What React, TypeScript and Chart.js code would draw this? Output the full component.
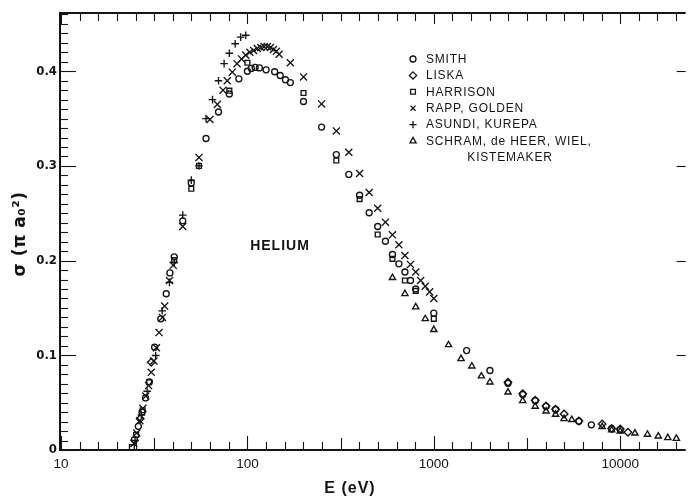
import React, { useEffect, useRef } from 'react';
import { Chart, registerables } from 'chart.js';
import { drawPoint } from 'chart.js/helpers';

Chart.register(...registerables);

type Pt = [number, number];

// Ionization cross section of helium, sigma in units of pi*a0^2, versus electron energy E (eV)
const smith: Pt[] = [
  [24.8, 0.011], [26.0, 0.025], [27.2, 0.040], [28.4, 0.055], [29.8, 0.072], [31.8, 0.1086],
  [34.3, 0.1385], [36.7, 0.165], [38.4, 0.187], [40.5, 0.204], [45, 0.242], [50, 0.282],
  [60, 0.329], [70, 0.357], [80, 0.376], [90, 0.392], [100, 0.400], [105, 0.403], [110, 0.404],
  [116, 0.4035], [126, 0.4015], [140, 0.3995], [150, 0.3955], [160, 0.391], [170, 0.388],
  [200, 0.368], [250, 0.341], [300, 0.312], [350, 0.291], [400, 0.269], [450, 0.2505],
  [500, 0.236], [550, 0.2205], [600, 0.2065], [650, 0.1966], [700, 0.188], [750, 0.179],
  [800, 0.170], [1000, 0.1445], [1500, 0.105], [2000, 0.084], [2500, 0.0705], [3000, 0.0586],
  [3500, 0.052], [4000, 0.046], [4500, 0.0428], [6000, 0.0304], [7000, 0.0266], [9000, 0.0224],
  [10000, 0.0215],
];

const liska: Pt[] = [
  [26.6, 0.033], [30.5, 0.0927], [2500, 0.0715], [3000, 0.0595], [3500, 0.0525], [4000, 0.0465],
  [4500, 0.043], [5000, 0.038], [6000, 0.0305], [8000, 0.0275], [9000, 0.0228], [10000, 0.0222],
  [11000, 0.0188],
];

const harrison: Pt[] = [
  [24.0, 0.003], [25.3, 0.016], [27.4, 0.042], [29.7, 0.0716], [40.5, 0.2005], [50, 0.276],
  [55, 0.300], [80, 0.3795], [100, 0.409], [200, 0.377], [300, 0.3057], [400, 0.265],
  [500, 0.2276], [600, 0.2019], [700, 0.179], [800, 0.168], [1000, 0.1385],
];

const rappGolden: Pt[] = [
  [24.6, 0.007], [25.5, 0.018], [26.5, 0.031], [27.5, 0.044], [28.5, 0.057], [29.5, 0.068],
  [30.5, 0.082], [31.5, 0.094], [32.5, 0.108], [33.6, 0.124], [35.0, 0.140], [36.0, 0.152],
  [38.2, 0.179], [40.0, 0.195], [45, 0.236], [55, 0.309], [63, 0.349], [69, 0.365], [74, 0.380],
  [78, 0.390], [83, 0.399], [88, 0.408], [93, 0.413], [98, 0.417], [103, 0.420], [108, 0.422],
  [113, 0.424], [118, 0.425], [123, 0.426], [128, 0.426], [133, 0.425], [138, 0.423],
  [143, 0.421], [148, 0.418], [170, 0.409], [200, 0.394], [250, 0.3655], [300, 0.337],
  [350, 0.3145], [400, 0.292], [450, 0.272], [500, 0.2553], [550, 0.2406], [600, 0.2272],
  [650, 0.2167], [700, 0.2054], [750, 0.196], [800, 0.188], [850, 0.179], [900, 0.173],
  [950, 0.167], [1000, 0.160],
];

const asundiKurepa: Pt[] = [
  [25.0, 0.010], [27.0, 0.037], [29.0, 0.062], [32.2, 0.0998], [34.9, 0.147], [38.2, 0.177],
  [40.5, 0.198], [45, 0.248], [50, 0.285], [55, 0.300], [60, 0.350], [65, 0.370], [70, 0.390],
  [75, 0.408], [80, 0.419], [86, 0.429], [92, 0.436], [98, 0.438],
];

const schram: Pt[] = [
  [600, 0.182], [700, 0.165], [800, 0.151], [900, 0.1385], [1000, 0.127], [1200, 0.111],
  [1400, 0.0963], [1600, 0.0885], [1800, 0.078], [2000, 0.0716], [2500, 0.061], [3000, 0.052],
  [3500, 0.046], [4000, 0.041], [4500, 0.0375], [5000, 0.033], [5500, 0.032], [8000, 0.0245],
  [9000, 0.021], [10000, 0.0199], [12000, 0.0177], [14000, 0.0164], [16000, 0.0146],
  [18000, 0.0129], [20000, 0.0121],
];

const X_TICKS = [10, 100, 1000, 10000];
const Y_TICKS = [0, 0.1, 0.2, 0.3, 0.4];

const INK = '#141414';

const SERIES = [
  { label: ['SMITH'], style: 'circle', radius: 3, data: smith },
  { label: ['LISKA'], style: 'rectRot', radius: 3.8, data: liska },
  { label: ['HARRISON'], style: 'rect', radius: 3.4, data: harrison },
  { label: ['RAPP, GOLDEN'], style: 'crossRot', radius: 5, data: rappGolden },
  { label: ['ASUNDI, KUREPA'], style: 'cross', radius: 3.8, data: asundiKurepa },
  { label: ['SCHRAM, de HEER, WIEL,', 'KISTEMAKER'], style: 'triangle', radius: 3.6, data: schram },
];

const decorPlugin = {
  id: 'decor',
  afterDraw(chart: any) {
    const { ctx, chartArea: a, scales } = chart;
    const xs = scales.x;
    const ys = scales.y;
    ctx.save();
    ctx.strokeStyle = INK;
    ctx.lineCap = 'butt';

    // frame: top, left and bottom borders
    ctx.lineWidth = 2;
    ctx.beginPath();
    ctx.moveTo(a.right, a.top);
    ctx.lineTo(a.left, a.top);
    ctx.lineTo(a.left, a.bottom);
    ctx.lineTo(a.right, a.bottom);
    ctx.stroke();

    // log-axis ticks every tenth of a decade, pointing inward
    ctx.lineWidth = 1.1;
    for (let k = 10; k <= 44; k++) {
      const v = Math.pow(10, k / 10);
      if (v < xs.min || v > xs.max) continue;
      const px = Math.round(xs.getPixelForValue(v)) + 0.5;
      const len = k % 10 === 0 ? 14 : k % 5 === 0 ? 12 : 8;
      ctx.beginPath();
      ctx.moveTo(px, a.bottom);
      ctx.lineTo(px, a.bottom - len);
      ctx.moveTo(px, a.top);
      ctx.lineTo(px, a.top + (k % 10 === 0 ? 11 : 8));
      ctx.stroke();
    }

    // y ticks every 0.01
    for (let i = 0; i <= 46; i++) {
      const v = i / 100;
      if (v > ys.max) continue;
      const py = Math.round(ys.getPixelForValue(v)) + 0.5;
      const len = i % 10 === 0 ? 16 : 8;
      ctx.beginPath();
      ctx.moveTo(a.left, py);
      ctx.lineTo(a.left + len, py);
      ctx.stroke();
      if (i % 10 === 0 && i > 0) {
        ctx.beginPath();
        ctx.moveTo(a.right, py);
        ctx.lineTo(a.right - 9, py);
        ctx.stroke();
      }
    }

    ctx.fillStyle = INK;
    ctx.textAlign = 'center';
    ctx.textBaseline = 'middle';

    // axis titles
    ctx.font = 'bold 16px "Liberation Sans", Arial, sans-serif';
    (ctx as any).letterSpacing = '1px';
    ctx.fillText('E (eV)', 350, 489);

    ctx.save();
    ctx.translate(21, 234);
    ctx.rotate(-Math.PI / 2);
    ctx.font = 'bold 17px "DejaVu Sans", sans-serif';
    (ctx as any).letterSpacing = '0.5px';
    ctx.fillText('σ (π a₀²)', 0, 0);
    ctx.restore();

    // gas label
    ctx.font = 'bold 14px "Liberation Sans", Arial, sans-serif';
    (ctx as any).letterSpacing = '1px';
    ctx.fillText('HELIUM', 280, 246);

    // legend: hollow symbols with their labels
    ctx.font = '12px "Liberation Sans", Arial, sans-serif';
    (ctx as any).letterSpacing = '0.8px';
    const rowH = 16.4;
    let row = 0;
    const top = 59;
    SERIES.forEach((s) => {
      const y = top + row * rowH;
      ctx.save();
      ctx.lineWidth = 1.3;
      ctx.strokeStyle = INK;
      ctx.fillStyle = 'rgba(0,0,0,0)';
      drawPoint(ctx, { pointStyle: s.style as any, radius: Math.min(s.radius, 3.6), rotation: 0, borderWidth: 1.3 } as any, 413, y);
      ctx.restore();
      ctx.fillStyle = INK;
      ctx.textAlign = 'left';
      ctx.fillText(s.label[0], 426, y + 0.5);
      row++;
      for (let j = 1; j < s.label.length; j++) {
        ctx.textAlign = 'center';
        ctx.fillText(s.label[j], 510, top + row * rowH + 0.5);
        row++;
      }
    });
    ctx.restore();
  },
};

const whiteBg = {
  id: 'whiteBg',
  beforeDraw(chart: any) {
    const { ctx, width, height } = chart;
    ctx.save();
    ctx.fillStyle = '#ffffff';
    ctx.fillRect(0, 0, width, height);
    ctx.restore();
  },
};

export default function App() {
  const ref = useRef<HTMLCanvasElement | null>(null);

  useEffect(() => {
    if (!ref.current) return;
    const chart = new Chart(ref.current, {
      type: 'scatter',
      data: {
        datasets: SERIES.map((s) => ({
          label: s.label.join(' '),
          data: s.data.map(([x, y]) => ({ x, y })),
          pointStyle: s.style as any,
          pointRadius: s.radius,
          pointHoverRadius: s.radius,
          pointBorderWidth: 1.35,
          borderColor: INK,
          backgroundColor: 'rgba(0,0,0,0)',
          showLine: false,
        })),
      },
      plugins: [whiteBg, decorPlugin],
      options: {
        responsive: false,
        animation: false,
        devicePixelRatio: 1,
        layout: { padding: { top: 13, left: 0, right: 0, bottom: 0 } },
        plugins: { legend: { display: false }, tooltip: { enabled: false } },
        scales: {
          x: {
            type: 'logarithmic',
            min: 9.88,
            max: 22440,
            grid: { display: false, drawTicks: false, tickLength: 0 },
            border: { display: false },
            ticks: {
              autoSkip: false,
              maxRotation: 0,
              padding: 6,
              color: INK,
              font: { family: '"Liberation Sans", Arial, sans-serif', size: 13.5 },
              callback: (v: any) => String(v),
            },
            afterBuildTicks: (s: any) => {
              s.ticks = X_TICKS.map((value) => ({ value }));
            },
            afterFit: (s: any) => {
              s.height = 51;
            },
          },
          y: {
            type: 'linear',
            min: 0,
            max: 0.4615,
            grid: { display: false, drawTicks: false, tickLength: 0 },
            border: { display: false },
            ticks: {
              padding: 3,
              color: INK,
              font: { family: '"DejaVu Sans Condensed", "Liberation Sans Narrow", sans-serif', size: 13, weight: 'bold' },
              callback: (v: any) => (Number(v) === 0 ? '0' : Number(v).toFixed(1)),
            },
            afterBuildTicks: (s: any) => {
              s.ticks = Y_TICKS.map((value) => ({ value }));
            },
            afterFit: (s: any) => {
              s.width = 60;
            },
          },
        },
      },
    });
    return () => chart.destroy();
  }, []);

  return (
    <div style={{ position: 'fixed', left: 0, top: 0, width: 692, height: 501, background: '#fff' }}>
      <canvas ref={ref} width={692} height={501} style={{ display: 'block', width: 692, height: 501 }} />
    </div>
  );
}
